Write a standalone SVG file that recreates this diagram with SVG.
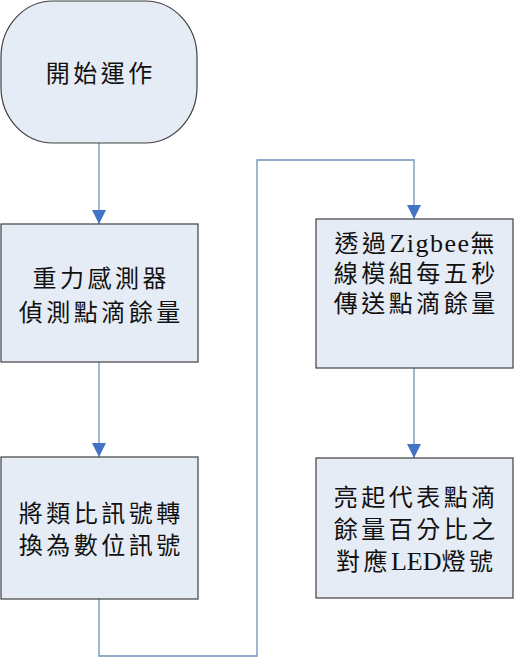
<svg xmlns="http://www.w3.org/2000/svg" width="514" height="659" viewBox="0 0 514 659">
<style>
.node{fill:#E6ECF5;stroke:#404040;stroke-width:1.2}
.lbl{font-family:"Liberation Serif","Noto Sans CJK TC",serif;font-size:24px;fill:#111;text-anchor:middle;letter-spacing:3.5px}
.lat{letter-spacing:1.5px;font-size:26px}
.lat0{letter-spacing:0px;font-size:26px}
.conn{fill:none;stroke:#7090BA;stroke-width:1.3}
</style>
<defs>
<marker id="arr" markerUnits="userSpaceOnUse" markerWidth="14" markerHeight="15" refX="14" refY="7" orient="auto" viewBox="0 0 14 14">
<path d="M0,0 L14,7 L0,14 Z" fill="#4472C4"/>
</marker>
</defs>
<g id="connectors">
<path class="conn" d="M99,143 V224" marker-end="url(#arr)"/>
<path class="conn" d="M99,362 V457" marker-end="url(#arr)"/>
<path class="conn" d="M99,599 V656 H257 V160 H414 V219" marker-end="url(#arr)"/>
<path class="conn" d="M414,368 V458" marker-end="url(#arr)"/>
</g>
<g id="start">
<rect class="node" x="1" y="1" width="196" height="142" rx="52" ry="56"/>
<text class="lbl" x="100.75" y="82">開始運作</text>
</g>
<g id="sense">
<rect class="node" x="1" y="224" width="197" height="138"/>
<text class="lbl" x="101.25" y="287">重力感測器</text>
<text class="lbl" x="101.25" y="321">偵測點滴餘量</text>
</g>
<g id="convert">
<rect class="node" x="1" y="457" width="197" height="142"/>
<text class="lbl" x="101.25" y="522">將類比訊號轉</text>
<text class="lbl" x="101.25" y="554">換為數位訊號</text>
</g>
<g id="send">
<rect class="node" x="316" y="219" width="197" height="149"/>
<text class="lbl" x="416.25" y="252">透過<tspan class="lat">Zigbee</tspan>無</text>
<text class="lbl" x="416.25" y="282">線模組每五秒</text>
<text class="lbl" x="416.25" y="312">傳送點滴餘量</text>
</g>
<g id="led">
<rect class="node" x="316" y="458" width="197" height="140"/>
<text class="lbl" x="416.25" y="506">亮起代表點滴</text>
<text class="lbl" x="416.25" y="538">餘量百分比之</text>
<text class="lbl" x="416.25" y="570">對應<tspan class="lat0">LED</tspan>燈號</text>
</g>
</svg>
